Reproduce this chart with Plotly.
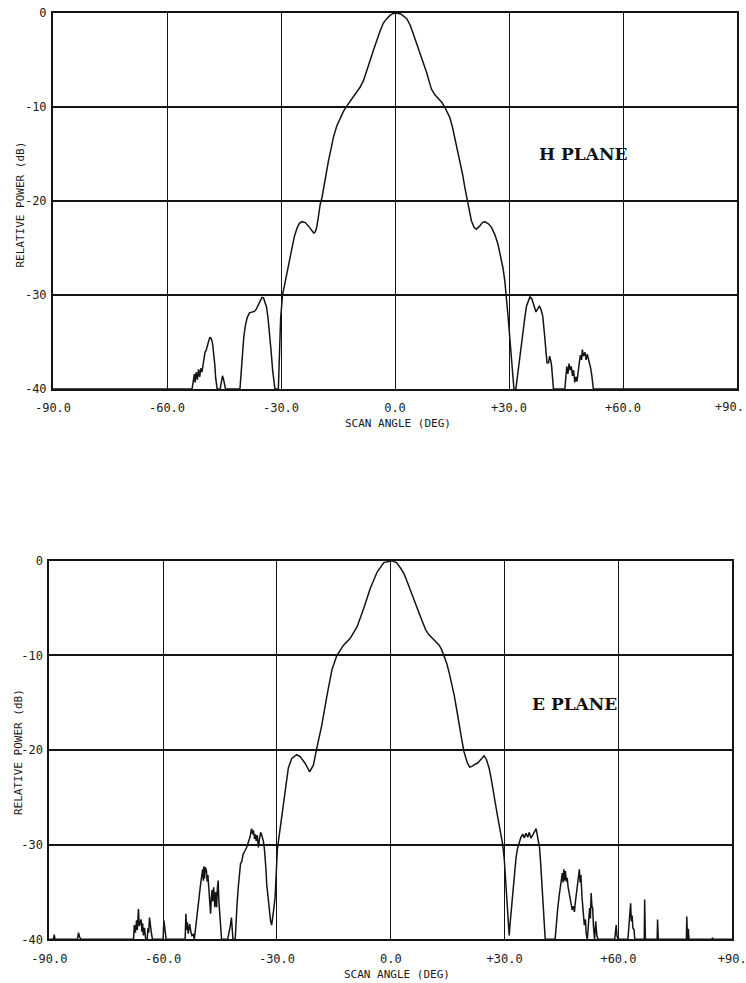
import plotly.graph_objects as go

# ---------------- data ----------------
tick_x_vals = [-90, -60, -30, 0, 30, 60, 90]
tick_x_text = ["-90.0", "-60.0", "-30.0", "0.0", "+30.0", "+60.0", "+90."]
tick_y_vals = [0, -10, -20, -30, -40]
tick_y_text = ["0", "-10", "-20", "-30", "-40"]

# H plane pattern: scan angle (deg) and relative power (dB)
h_angle = [-90, -53.4, -53.1, -52.8, -52.6, -52.3, -52.0, -51.7, -51.4, -51.1, -50.8, -50.5,
           -50.2, -50.0, -49.7, -49.4, -49.1, -48.7, -48.3, -48.0, -47.7, -47.4, -47.2, -47.0,
           -46.8, -46.0, -45.7, -45.4, -45.1, -44.8, -44.6,
           -40.8, -40.3, -39.8, -39.4, -38.9, -38.3, -37.6, -37.0, -36.5, -36.0, -35.5, -35.0,
           -34.6, -34.2, -33.8, -33.4, -33.0, -32.6, -32.2, -31.8, -31.6,
           -30.7, -30.4, -30.1, -29.6, -29.0, -28.4, -27.8, -27.1, -26.5, -25.8, -25.2, -24.5,
           -23.6, -22.7, -22.0, -21.4, -21.0, -20.6, -20.2, -19.7, -19.2, -18.8, -18.2, -17.5,
           -16.8, -16.2, -15.3, -14.4, -13.6, -12.7, -11.5, -10.1, -9.2, -8.3, -7.4, -6.6,
           -5.7, -4.8, -4.0, -3.1, -2.2, -1.3, -0.5, 0.4,
           1.5, 3.1, 4.0, 4.8, 5.7, 6.6, 7.5, 8.3, 9.0, 9.6, 10.5, 11.4, 12.3, 13.1, 14.4,
           15.1, 15.7, 16.4, 17.1, 17.8, 18.4, 19.2, 20.1, 20.8, 21.4, 22.2, 23.0, 23.6, 24.5,
           25.4, 26.3, 27.1, 27.8, 28.4, 28.9, 29.3, 29.8, 30.3, 30.8, 31.3,
           31.8, 32.3, 32.9, 33.4, 33.8, 34.2, 34.6, 35.1, 35.5, 36.0, 36.4, 36.8, 37.1, 37.5,
           38.0, 38.4, 38.9, 39.3, 39.7, 40.0, 40.4, 40.7, 41.0, 41.2, 41.5, 41.7,
           44.7, 45.0, 45.2, 45.5, 45.8, 46.1, 46.4, 46.7, 47.0, 47.3, 47.6, 47.9, 48.2, 48.5,
           48.8, 49.1, 49.3, 49.6, 50.0, 50.3, 50.6, 50.9, 51.2, 51.5, 51.8, 52.0, 52.2, 90]
h_power = [-40, -40, -39.2, -38.4, -39.3, -38.2, -39.0, -37.9, -38.7, -37.8, -38.2, -37.2,
           -36.6, -36.1, -35.9, -35.3, -35.0, -34.5, -34.7, -35.2, -36.2, -37.5, -38.8, -39.8,
           -40, -40, -39.3, -38.6, -39.0, -39.5, -40,
           -40, -37.0, -34.5, -33.3, -32.4, -31.9, -31.8, -31.75, -31.5, -31.1, -30.6, -30.25,
           -30.3, -30.7, -31.3, -32.5, -34.0, -36.0, -38.0, -39.7, -40,
           -40, -36.0, -32.5, -30.0, -28.8, -27.6, -26.2, -24.9, -23.8, -22.9, -22.4, -22.2,
           -22.3, -22.7, -23.1, -23.4, -23.3, -22.8, -21.8, -20.4, -19.6, -18.6, -17.3, -15.7,
           -14.4, -13.2, -12.0, -11.1, -10.5, -9.9, -9.2, -8.4, -7.9, -7.2, -6.2, -5.1,
           -4.0, -2.9, -2.0, -1.1, -0.6, -0.25, -0.05, 0.0,
           -0.1, -0.6, -1.3, -2.2, -3.2, -4.3, -5.3, -6.3, -7.3, -8.1, -8.7, -9.1, -9.5, -10.0, -11.1,
           -12.1, -13.2, -14.4, -15.7, -17.2, -18.6, -20.4, -22.1, -22.8, -23.0, -22.7, -22.3, -22.2, -22.4,
           -22.8, -23.6, -24.6, -25.8, -27.1, -28.5, -30.0, -32.5, -35.0, -37.5, -40,
           -40, -38.3, -36.8, -35.0, -33.7, -32.3, -31.2, -30.5, -30.2, -30.4, -30.9, -31.5, -31.8, -31.5,
           -31.2, -31.5, -32.3, -34.0, -36.5, -37.2, -37.2, -36.5, -37.0, -37.5, -39.0, -40,
           -40, -38.8, -37.6, -38.4, -37.3, -38.0, -37.6, -38.6, -38.0, -39.3, -38.7, -39.2, -37.9, -37.2,
           -36.4, -36.9, -35.8, -36.5, -36.1, -36.9, -36.3, -36.8, -37.2, -37.8, -38.6, -39.3, -40, -40]

# E plane pattern: scan angle (deg) and relative power (dB)
e_angle = [-90, -88.9, -88.7, -88.5, -82.6, -82.3, -82.0, -81.6,
           -67.8, -67.6, -67.3, -67.0, -66.8, -66.5, -66.3, -66.0, -65.8, -65.6, -65.4, -65.2,
           -64.9, -64.6, -64.2, -64.0, -63.8, -63.6, -63.4, -63.2, -63.0, -62.8,
           -60.0, -59.8, -59.6, -59.4, -59.2,
           -54.2, -54.0, -53.8, -53.6, -53.4, -53.2, -53.0, -52.7, -52.4, -52.0, -51.8, -51.5,
           -51.2, -50.8, -50.5, -50.2, -49.9, -49.6, -49.4, -49.3, -49.1, -48.9, -48.6, -48.4,
           -48.2, -48.0, -47.9, -47.7, -47.5, -47.3, -47.1, -46.9, -46.7, -46.5, -46.4, -46.1,
           -45.9, -45.7, -45.5, -45.3, -45.1, -44.9, -44.6,
           -43.0, -42.6, -42.3, -42.0, -41.8, -41.6,
           -41.0, -40.8, -40.5, -40.2, -39.9, -39.6, -39.3, -38.9, -38.5, -38.0, -37.6, -37.1,
           -36.7, -36.4, -36.2, -35.9, -35.7, -35.5, -35.2, -34.9, -34.6, -34.3, -34.0, -33.6,
           -33.3, -33.1, -32.9, -32.7, -32.4, -32.0, -31.7, -31.4, -31.2, -30.9, -30.5, -30.2,
           -29.9, -29.4, -28.7, -27.9, -27.0, -26.1, -24.8, -23.9, -22.6, -21.4, -20.4, -19.5,
           -18.2, -16.8, -15.5, -14.2, -12.4, -10.7, -8.9, -7.1, -5.4, -3.6, -1.85, 0.35,
           1.5, 2.6, 3.5, 4.3, 5.2, 6.1, 7.0, 7.8, 8.5, 9.2, 10.0, 10.9, 11.8, 12.7, 13.4,
           14.0, 14.7, 15.3, 16.0, 16.7, 17.4, 18.0, 18.7, 19.3, 20.2, 20.8, 21.5, 22.2, 22.8,
           23.5, 24.0, 24.6, 25.2, 25.9, 26.4, 26.8, 27.5, 28.1, 28.6, 29.0, 29.5, 29.9, 30.3,
           30.7, 31.0, 31.2, 31.4, 31.7, 32.0, 32.4, 32.7, 33.0, 33.4, 33.9, 34.3, 34.8, 35.2,
           35.6, 36.1, 36.5, 36.9, 37.4, 37.8, 38.3, 38.7, 39.0, 39.2, 39.5, 39.8, 40.1, 40.3,
           40.5, 40.7,
           43.3, 43.6, 44.0, 44.4, 44.7, 44.9, 45.2, 45.4, 45.6, 45.8, 46.0, 46.3, 46.5, 46.7,
           47.0, 47.3, 47.5, 47.8, 48.1, 48.4, 48.6, 48.8, 49.1, 49.3, 49.5, 49.7, 49.9, 50.1,
           50.4, 50.7, 51.0, 51.3, 51.5, 51.8, 52.1, 52.4, 52.6, 52.8, 53.0, 53.2, 53.4, 53.7,
           54.0, 54.3, 54.6,
           59.0, 59.2, 59.4, 59.6, 59.9,
           62.5, 62.7, 63.0, 63.2, 63.4, 63.6, 63.8, 64.1, 64.3,
           66.8, 66.9, 67.1, 70.2, 70.3, 70.5,
           77.9, 78.0, 78.2, 78.4, 78.6, 84.6, 84.8, 85.0, 90]
e_power = [-40, -40, -39.5, -40, -40, -39.3, -39.8, -40,
           -40, -38.5, -39.3, -38.0, -39.0, -36.8, -38.6, -38.0, -37.9, -39.2, -38.3, -39.6,
           -38.8, -40, -40, -38.8, -39.3, -37.7, -38.5, -38.9, -39.6, -40,
           -40, -38.0, -38.7, -39.5, -40,
           -40, -37.3, -39.0, -38.2, -39.4, -38.7, -38.4, -39.2, -39.6, -39.5, -40, -39.0,
           -38.1, -36.6, -35.5, -34.4, -33.4, -32.6, -33.8, -32.3, -33.6, -32.4, -32.7, -33.9,
           -33.2, -34.5, -34.8, -36.2, -37.3, -35.6, -34.8, -36.0, -34.5, -35.4, -36.6, -35.0,
           -36.6, -34.6, -33.8, -36.0, -37.3, -38.8, -40,
           -40, -39.3, -38.6, -37.7, -39.0, -40,
           -40, -38.1, -36.2, -34.5, -33.0, -32.0, -31.8, -31.0, -30.7, -30.3, -29.8, -29.2,
           -28.3, -28.9, -28.5, -29.4, -28.9, -29.6, -29.0, -30.3, -29.4, -28.7, -29.0, -29.6,
           -30.5, -31.3, -32.6, -34.2, -35.5, -36.6, -38.0, -38.5, -37.6, -37.0, -35.6, -33.5,
           -30.5, -29.0, -26.9, -24.8, -21.9, -20.9, -20.5, -20.7, -21.4, -22.3, -21.6, -19.8,
           -17.4, -14.2, -11.5, -10.0, -8.9, -8.2, -7.0, -5.0, -2.9, -1.2, -0.2, 0.0,
           -0.2, -0.8, -1.4, -2.2, -3.2, -4.2, -5.1, -5.9, -6.6, -7.3, -7.8, -8.2, -8.5, -8.9, -9.4,
           -10.0, -10.8, -11.7, -12.9, -14.2, -15.8, -17.4, -18.9, -20.2, -21.4, -21.8, -21.7, -21.5, -21.4,
           -21.1, -20.9, -20.6, -21.0, -21.9, -22.9, -24.0, -25.5, -26.9, -28.0, -29.0, -30.0, -31.5, -33.9,
           -37.1, -38.8, -39.6, -38.5, -37.1, -35.5, -33.9, -32.6, -31.4, -30.4, -29.6, -29.2, -28.9, -29.3,
           -28.8, -29.2, -28.7, -29.3, -29.0, -28.6, -28.3, -29.2, -30.0, -30.3, -32.0, -33.9, -35.8, -37.4,
           -38.8, -40,
           -40, -38.3, -36.7, -35.3, -34.2, -33.9, -33.0, -34.0, -32.6, -33.8, -32.8, -33.9, -33.5, -34.4,
           -35.2, -36.0, -36.4, -36.9, -36.5, -37.1, -36.2, -35.4, -34.9, -33.5, -32.8, -32.6, -34.0, -33.2,
           -35.6, -37.0, -38.5, -37.9, -39.4, -40, -38.5, -36.7, -37.8, -35.1, -36.5, -36.7, -38.6, -40,
           -38.1, -39.6, -40,
           -40, -39.3, -38.5, -39.6, -40,
           -40, -39.0, -37.8, -36.2, -38.1, -37.5, -38.8, -39.0, -40,
           -40, -35.8, -40, -40, -37.9, -40,
           -40, -37.6, -40, -38.9, -40, -40, -39.85, -40, -40]

# ---------------- figure ----------------
W, H = 746, 983
INK = "#141414"
tick_font = dict(family="DejaVu Sans Mono", size=12, color="#1a1a1a")

# plot-area pixel boxes (left, right, top, bottom)
boxes = {"top": (53, 737, 13, 389), "bot": (49.3, 732.3, 560.7, 939.3)}

fig = go.Figure()
fig.add_trace(go.Scatter(x=h_angle, y=h_power, mode="lines", xaxis="x", yaxis="y",
                         line=dict(color=INK, width=1.5), showlegend=False, name="H PLANE"))
fig.add_trace(go.Scatter(x=e_angle, y=e_power, mode="lines", xaxis="x2", yaxis="y2",
                         line=dict(color=INK, width=1.5), showlegend=False, name="E PLANE"))

def xax(box, anchor, labels):
    l, r, t, b = box
    return dict(domain=[l / W, r / W], anchor=anchor, range=[-90, 90],
                tickmode="array", tickvals=tick_x_vals, ticktext=labels,
                showgrid=True, gridcolor=INK, gridwidth=1.3,
                showline=True, linecolor=INK, linewidth=2, mirror=True,
                zeroline=False, ticks="", tickfont=tick_font, ticklabelstandoff=7,
                ticklabeloverflow="allow", automargin=False, fixedrange=True)

def yax(box, anchor):
    l, r, t, b = box
    return dict(domain=[1 - b / H, 1 - t / H], anchor=anchor, range=[-40, 0],
                tickmode="array", tickvals=tick_y_vals, ticktext=tick_y_text,
                showgrid=True, gridcolor=INK, gridwidth=2,
                showline=True, linecolor=INK, linewidth=2, mirror=True,
                zeroline=False, ticks="", tickfont=tick_font, ticklabelstandoff=2,
                ticklabeloverflow="allow", automargin=False, fixedrange=True)

# top panel: the +90 label sits at the page edge, so it is placed right-aligned
top_labels = tick_x_text[:-1] + [""]

lab_font = dict(family="DejaVu Sans Mono", size=11, color="#1a1a1a")
plane_font = dict(family="DejaVu Serif", size=17, color="#111111")

annotations = [
    dict(text="RELATIVE POWER (dB)", x=20 / W, y=1 - 204.5 / H, textangle=-90),
    dict(text="SCAN ANGLE (DEG)", x=398 / W, y=1 - 424 / H),
    dict(text="RELATIVE POWER (dB)", x=18.5 / W, y=1 - 752.5 / H, textangle=-90),
    dict(text="SCAN ANGLE (DEG)", x=396.5 / W, y=1 - 974 / H),
]
for a in annotations:
    a.update(xref="paper", yref="paper", showarrow=False, font=lab_font,
             xanchor="center", yanchor="middle")
annotations += [
    dict(text=tick_x_text[-1], x=1.0, y=1 - 407.5 / H, xref="paper", yref="paper",
         showarrow=False, font=tick_font, xanchor="right", yanchor="middle"),
    dict(text="<b>H PLANE</b>", x=583 / W, y=1 - 154 / H, xref="paper", yref="paper",
         showarrow=False, font=plane_font, xanchor="center", yanchor="middle"),
    dict(text="<b>E PLANE</b>", x=574 / W, y=1 - 704 / H, xref="paper", yref="paper",
         showarrow=False, font=plane_font, xanchor="center", yanchor="middle"),
]

fig.update_layout(
    width=W, height=H, margin=dict(l=0, r=0, t=0, b=0),
    paper_bgcolor="white", plot_bgcolor="white",
    xaxis=xax(boxes["top"], "y", top_labels), yaxis=yax(boxes["top"], "x"),
    xaxis2=xax(boxes["bot"], "y2", tick_x_text), yaxis2=yax(boxes["bot"], "x2"),
    annotations=annotations, showlegend=False,
)

fig.write_html("out.html", config={"displayModeBar": False})
